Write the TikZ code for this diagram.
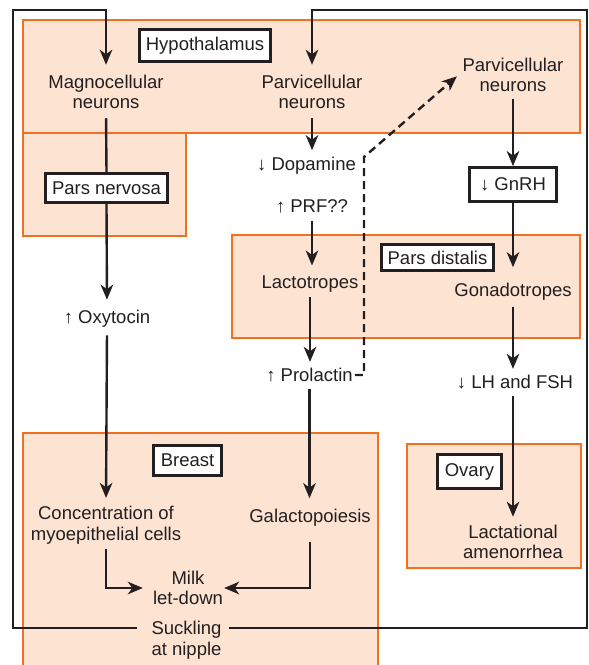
\documentclass[tikz,border=0pt]{standalone}
\usepackage{fontspec}
\setmainfont{Liberation Sans}
\usetikzlibrary{arrows.meta}
\definecolor{regionfill}{RGB}{253,227,209}
\definecolor{regionline}{RGB}{242,112,34}
\definecolor{ink}{RGB}{35,31,32}
\begin{document}
\begin{tikzpicture}[x=1pt,y=-1pt,
  font=\fontsize{18.5}{20.5}\selectfont,
  region/.style={fill=regionfill, draw=regionline, line width=2.9pt},
  txt/.style={text=ink, align=center, inner sep=4pt},
  tag/.style={draw=ink, fill=white, line width=2.8pt, text=ink, inner xsep=6pt, inner ysep=0pt},
  flow/.style={draw=ink, line width=2.4pt, -{Stealth[length=15pt,width=12.5pt,inset=4.5pt]}},
  link/.style={draw=ink, line width=2.4pt},
  feedback/.style={flow, dash pattern=on 8pt off 5pt}]
\useasboundingbox (0,0) rectangle (589,665);
\clip (0,0) rectangle (589,665);

% tissue regions
\draw[region] (23,20) rectangle (580,133);
\draw[region] (23,133) rectangle (186,236);
\draw[region] (232,235) rectangle (580,338);
\draw[region] (23,433) rectangle (378,690);
\draw[region] (407,444) rectangle (581,568);

% region labels
\node[tag, minimum width=131pt, minimum height=32pt] (hypo) at (205,45.5) {Hypothalamus};
\node[tag, minimum width=122pt, minimum height=29pt] (pn) at (106.5,188) {Pars nervosa};
\node[tag, minimum width=112pt, minimum height=26pt] (pd) at (437.5,257.5) {Pars distalis};
\node[tag, minimum width=68pt, minimum height=30pt] (breast) at (187.5,460.5) {Breast};
\node[tag, minimum width=64pt, minimum height=34pt] (ovary) at (469.5,471.5) {Ovary};
\node[tag, minimum width=87pt, minimum height=34pt] (gnrh) at (513,184.5) {↓ GnRH};

% pathway steps
\node[txt] (magno) at (106,92) {Magnocellular\\neurons};
\node[txt] (parvL) at (312,92) {Parvicellular\\neurons};
\node[txt] (parvR) at (513,75) {Parvicellular\\neurons};
\node[txt] (dopa) at (306.5,166) {↓ Dopamine};
\node[txt] (prf) at (312,206) {↑ PRF??};
\node[txt] (lacto) at (310,284) {Lactotropes};
\node[txt] (gonado) at (513,292) {Gonadotropes};
\node[txt] (prl) at (309.5,375) {↑ Prolactin};
\node[txt] (lhfsh) at (515,382) {↓ LH and FSH};
\node[txt] (oxy) at (107,318.5) {↑ Oxytocin};
\node[txt] (conc) at (106,525) {Concentration of\\myoepithelial cells};
\node[txt] (galacto) at (310,518) {Galactopoiesis};
\node[txt] (milk) at (188,588) {Milk\\let-down};
\node[txt] (suck) at (186.5,640) {Suckling\\at nipple};
\node[txt] (amen) at (513,542) {Lactational\\amenorrhea};

\coordinate (tl) at (13,10);
\coordinate (tr) at (587,10);
\coordinate (fb) at (364,157);

% suckling reflex loops
\draw[flow, shorten <=10pt, shorten >=6pt] ([yshift=12pt]suck.west) -| (tl) -| (magno.north);
\draw[flow, shorten <=3pt, shorten >=6pt] ([yshift=12pt]suck.east) -| (tr) -| (parvL.north);

% oxytocin branch
\draw[link, shorten <=5pt] (magno.south) -- (pn.north);
\draw[flow, shorten >=6pt] (pn.south) -- (oxy.north);
\draw[flow, shorten <=4pt, shorten >=4pt] (oxy.south) -- (conc.north);
\draw[flow, shorten <=1pt, shorten >=6pt] (conc.south) |- (milk.west);

% prolactin branch
\draw[flow, shorten <=5pt, shorten >=3pt] (parvL.south) -- (parvL.south |- dopa.north);
\draw[flow, shorten <=4pt, shorten >=6pt] (prf.south) -- (prf.south |- lacto.north);
\draw[flow, shorten <=1pt, shorten >=2pt] (lacto.south) -- (lacto.south |- prl.north);
\draw[flow, shorten <=3pt, shorten >=7pt] (prl.south) -- (prl.south |- galacto.north);
\draw[flow, shorten <=11pt, shorten >=-3pt] (galacto.south) |- (milk.east);
\draw[feedback, shorten <=-2pt, shorten >=2pt] (prl.east) -- (prl.east -| fb) -- (fb) -- (parvR.west);

% gonadotropin branch
\draw[flow, shorten <=3pt] (parvR.south) -- (gnrh.north);
\draw[flow, shorten >=12pt] (gnrh.south) -- (gonado.north);
\draw[flow, shorten <=2pt, shorten >=2pt] (gonado.south) -- (gonado.south |- lhfsh.north);
\draw[flow, shorten <=3pt, shorten >=4pt] (lhfsh.south -| gonado.south) -- (gonado.south |- amen.north);
\end{tikzpicture}
\end{document}
